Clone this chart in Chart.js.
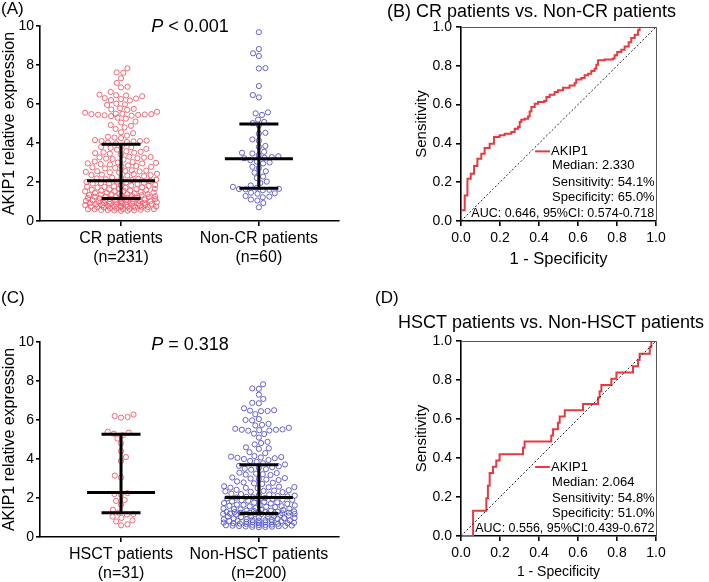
<!DOCTYPE html>
<html>
<head>
<meta charset="utf-8">
<script src="https://cdn.jsdelivr.net/npm/chart.js@4.4.0/dist/chart.umd.min.js"></script>
<style>
  html, body { margin: 0; padding: 0; background: #fff; }
  #wrap { position: relative; width: 709px; height: 582px; }
  canvas { position: absolute; }
</style>
</head>
<body>
<div id="wrap">
  <canvas id="panelA" width="355" height="290" style="left:0;top:0"></canvas>
  <canvas id="panelB" width="354" height="290" style="left:355px;top:0"></canvas>
  <canvas id="panelC" width="355" height="292" style="left:0;top:290px"></canvas>
  <canvas id="panelD" width="354" height="292" style="left:355px;top:290px"></canvas>
</div>
<script>
// ---- data ----
const labelsA = [['CR patients', '(n=231)'], ['Non-CR patients', '(n=60)']];
const labelsC = [['HSCT patients', '(n=31)'], ['Non-HSCT patients', '(n=200)']];
const yTicksDot = [0, 2, 4, 6, 8, 10];

const crValues = [
  7.83, 7.62, 7.60, 7.32, 7.08, 6.88, 6.85, 6.62, 6.48, 6.45,
  6.44, 6.40, 6.30, 6.28, 6.25, 6.20, 6.18, 6.02, 5.98, 5.95,
  5.78, 5.75, 5.72, 5.70, 5.60, 5.55, 5.50, 5.50, 5.48, 5.48,
  5.46, 5.45, 5.44, 5.42, 5.40, 5.38, 5.30, 5.25, 5.10, 5.05,
  4.92, 4.88, 4.80, 4.72, 4.55, 4.50, 4.38, 4.32, 4.28, 4.25,
  4.15, 4.12, 4.10, 4.10, 4.08, 4.05, 4.02, 3.98,
  3.85, 3.80, 3.78, 3.75, 3.70, 3.66,
  3.58, 3.55, 3.52, 3.50, 3.48, 3.45, 3.42,
  3.30, 3.28, 3.26, 3.25, 3.22, 3.20, 3.18, 3.15,
  3.05, 3.02, 3.00, 2.98, 2.96, 2.95, 2.92, 2.90,
  2.85, 2.82, 2.80, 2.78, 2.75, 2.72, 2.70,
  2.60, 2.58, 2.56, 2.55, 2.54, 2.52, 2.50, 2.48,
  2.42, 2.40, 2.38, 2.36, 2.35, 2.33, 2.30,
  2.22, 2.20, 2.18, 2.16, 2.14, 2.12, 2.10,
  2.05, 2.02, 2.00, 1.98, 1.96, 1.95, 1.93, 1.92, 1.90,
  1.85, 1.83, 1.82, 1.80, 1.78, 1.76, 1.75, 1.73, 1.72, 1.70,
  1.66, 1.65, 1.63, 1.62, 1.60, 1.58, 1.57, 1.56, 1.55, 1.53, 1.52,
  1.48, 1.46, 1.45, 1.43, 1.42, 1.40, 1.38, 1.37, 1.36, 1.35, 1.33, 1.32,
  1.30, 1.28, 1.27, 1.26, 1.25, 1.23, 1.22, 1.20, 1.19, 1.18, 1.16, 1.15, 1.14, 1.13, 1.12,
  1.10, 1.09, 1.08, 1.07, 1.06, 1.05, 1.04, 1.03, 1.02, 1.01, 1.00, 0.99, 0.98, 0.97, 0.96,
  0.94, 0.93, 0.92, 0.91, 0.90, 0.89, 0.88, 0.87, 0.86, 0.85, 0.84, 0.83, 0.82, 0.81,
  0.78, 0.77, 0.76, 0.76, 0.75, 0.74, 0.74, 0.73, 0.72, 0.72, 0.71, 0.70, 0.70, 0.69,
  0.66, 0.64, 0.63, 0.62, 0.61, 0.60, 0.60, 0.59, 0.58, 0.57, 0.56, 0.55, 0.54, 0.53, 0.52
];
const nonCrValues = [
  9.68, 8.82, 8.60, 8.46, 7.84, 7.82, 6.92, 6.46, 6.34, 5.57,
  5.52, 5.44, 5.20, 5.08, 5.02,
  4.90, 4.52, 4.48, 4.18, 4.12, 3.85, 3.80, 3.55, 3.50, 3.46,
  3.38, 3.32, 3.28, 3.24, 3.22,
  3.12, 3.05, 3.00, 2.95, 2.78, 2.72, 2.55, 2.48, 2.28, 2.20,
  2.02, 1.95, 1.82, 1.75, 1.70,
  1.65, 1.64, 1.62, 1.60, 1.58, 1.45, 1.42, 1.40, 1.28, 1.25,
  1.22, 1.10, 1.05, 0.92, 0.70
];
const hsctValues = [
  6.28, 6.20, 6.15, 6.12, 5.40, 5.35, 5.30, 5.22,
  5.05, 4.80, 4.40, 4.10, 3.90, 3.15, 3.05, 2.25,
  2.20, 2.18, 1.90, 1.85, 1.65, 1.40, 1.25,
  1.18, 1.15, 1.05, 0.98, 0.85, 0.80, 0.65, 0.60
];
const nonHsctValues = [
  7.83, 7.62, 7.60, 7.30, 7.08, 6.88, 6.86, 6.60, 6.50, 6.48,
  6.46, 6.45, 6.30, 6.05, 6.00, 5.98, 5.80, 5.75, 5.72, 5.60,
  5.55, 5.52, 5.50, 5.50, 5.48, 5.46, 5.45, 5.30, 5.28, 5.10,
  4.88, 4.82, 4.75, 4.60, 4.55, 4.52, 4.35, 4.30, 4.15, 4.12,
  4.10, 4.08, 4.06, 4.04, 4.00, 3.95, 3.90, 3.85, 3.78, 3.72,
  3.65, 3.62, 3.58, 3.55, 3.50, 3.48, 3.45,
  3.30, 3.28, 3.25, 3.22, 3.20, 3.18,
  3.05, 3.02, 3.00, 2.98, 2.95, 2.92,
  2.85, 2.80, 2.78, 2.75, 2.72,
  2.60, 2.58, 2.56, 2.55, 2.53, 2.52, 2.50,
  2.42, 2.40, 2.38, 2.36, 2.34, 2.32, 2.30,
  2.22, 2.20, 2.18, 2.15, 2.12, 2.10,
  2.08, 2.06, 2.04, 2.02, 2.00, 1.98,
  1.95, 1.93, 1.92, 1.90, 1.88, 1.86,
  1.82, 1.80, 1.78, 1.76, 1.74, 1.72, 1.70,
  1.66, 1.65, 1.63, 1.62, 1.60, 1.58, 1.57, 1.55, 1.53,
  1.48, 1.46, 1.45, 1.43, 1.42, 1.40, 1.38, 1.36, 1.35, 1.33,
  1.31, 1.30, 1.29, 1.28, 1.27, 1.26, 1.25, 1.24, 1.23, 1.22,
  1.21, 1.20, 1.19, 1.19, 1.18, 1.18, 1.18, 1.18,
  1.15, 1.12, 1.10, 1.08, 1.06, 1.05, 1.04, 1.02, 1.00, 0.98, 0.96, 0.95,
  0.93, 0.91, 0.90, 0.88, 0.87, 0.86, 0.85, 0.84, 0.83, 0.82, 0.81,
  0.78, 0.77, 0.76, 0.75, 0.74, 0.73, 0.72, 0.71, 0.70, 0.69, 0.68, 0.67,
  0.64, 0.63, 0.62, 0.61, 0.60, 0.59, 0.58, 0.57, 0.56, 0.55, 0.54, 0.53, 0.52, 0.51, 0.50
];

// median and interquartile range per group
const medianA = [2.07, 3.19];
const q1A = [1.15, 1.68];
const q3A = [3.93, 4.97];
const medianC = [2.28, 2.03];
const q1C = [1.25, 1.21];
const q3C = [5.27, 3.71];

// ROC curves (1 - specificity, sensitivity), staircase corners
const rocB_fpr = [0, 0, 0.019, 0.033, 0.05, 0.067, 0.084, 0.104, 0.121, 0.147, 0.169,
  0.198, 0.224, 0.258, 0.275, 0.292, 0.301, 0.309, 0.326, 0.344, 0.352, 0.361, 0.378,
  0.395, 0.426, 0.438, 0.455, 0.48, 0.497, 0.523, 0.557, 0.583, 0.591, 0.617, 0.634,
  0.651, 0.668, 0.685, 0.694, 0.703, 0.737, 0.779, 0.788, 0.801, 0.822, 0.839, 0.86,
  0.873, 0.891, 0.908, 0.916, 1];
const rocB_tpr = [0, 0.055, 0.132, 0.218, 0.244, 0.283, 0.321, 0.347, 0.376, 0.398, 0.433,
  0.442, 0.45, 0.459, 0.476, 0.485, 0.51, 0.522, 0.527, 0.539, 0.565, 0.588, 0.605,
  0.613, 0.619, 0.639, 0.651, 0.665, 0.674, 0.687, 0.699, 0.711, 0.73, 0.737, 0.751,
  0.759, 0.773, 0.785, 0.806, 0.828, 0.833, 0.837, 0.854, 0.871, 0.883, 0.9, 0.922,
  0.943, 0.96, 0.983, 1, 1];
const rocD_fpr = [0, 0.062, 0.13, 0.138, 0.147, 0.164, 0.181, 0.198, 0.318, 0.326, 0.463,
  0.472, 0.497, 0.506, 0.532, 0.626, 0.703, 0.711, 0.72, 0.771, 0.797, 0.882, 0.908,
  0.916, 0.968, 0.976, 1];
const rocD_tpr = [0, 0.129, 0.194, 0.258, 0.323, 0.355, 0.387, 0.419, 0.452, 0.484, 0.516,
  0.548, 0.581, 0.613, 0.645, 0.677, 0.71, 0.742, 0.774, 0.806, 0.839, 0.871, 0.903,
  0.935, 0.968, 1, 1];
const refLine = [0, 1];
const rocTicks = [0, 0.2, 0.4, 0.6, 0.8, 1.0];

const legendB = ['AKIP1', 'Median: 2.330', 'Sensitivity: 54.1%', 'Specificity: 65.0%'];
const aucB = 'AUC: 0.646, 95%CI: 0.574-0.718';
const legendD = ['AKIP1', 'Median: 2.064', 'Sensitivity: 54.8%', 'Specificity: 51.0%'];
const aucD = 'AUC: 0.556, 95%CI:0.439-0.672';

// ---- shared styles ----
const FONT = '"Liberation Sans", Arial, Helvetica, sans-serif';
const RED = 'rgba(238, 90, 104, 0.9)';
const BLUE = 'rgba(84, 84, 200, 0.9)';
const ROC_RED = '#e8393f';
Chart.defaults.font.family = FONT;
Chart.defaults.color = '#000';
Chart.defaults.animation = false;

// free text drawn on the canvas (panel letters, P values, titles)
const textPlugin = {
  id: 'texts',
  afterDraw(chart, args, opts) {
    const ctx = chart.ctx;
    (opts.items || []).forEach(it => {
      const parts = it.parts || [{ t: it.text }];
      ctx.save();
      ctx.fillStyle = '#000';
      ctx.textBaseline = 'middle';
      ctx.textAlign = 'left';
      const fonts = parts.map(p => (p.italic ? 'italic ' : '') + it.size + 'px ' + FONT);
      const widths = parts.map((p, i) => { ctx.font = fonts[i]; return ctx.measureText(p.t).width; });
      let x = it.x;
      if (it.align === 'center') x -= widths.reduce((a, b) => a + b, 0) / 2;
      parts.forEach((p, i) => {
        ctx.font = fonts[i];
        ctx.fillText(p.t, x, it.y);
        x += widths[i];
      });
      ctx.restore();
    });
  }
};

// median + IQR bars on top of the dots
const barsPlugin = {
  id: 'bars',
  afterDatasetsDraw(chart, args, opts) {
    const { ctx, scales: { x, y } } = chart;
    ctx.save();
    ctx.strokeStyle = '#000';
    ctx.lineWidth = 3;
    opts.pos.forEach((p, i) => {
      const cx = x.getPixelForValue(p);
      const yMed = y.getPixelForValue(opts.median[i]);
      const yLo = y.getPixelForValue(opts.q1[i]);
      const yHi = y.getPixelForValue(opts.q3[i]);
      ctx.beginPath();
      ctx.moveTo(cx - 34, yMed); ctx.lineTo(cx + 34, yMed);
      ctx.moveTo(cx - 19.5, yLo); ctx.lineTo(cx + 19.5, yLo);
      ctx.moveTo(cx - 19.5, yHi); ctx.lineTo(cx + 19.5, yHi);
      ctx.moveTo(cx, yLo); ctx.lineTo(cx, yHi);
      ctx.stroke();
    });
    ctx.restore();
  }
};

// nearest free horizontal offset for a point at pixel height py
function freeOffset(placed, py, DX, DY, side) {
  const blocks = [];
  placed.forEach(p => {
    const dy = Math.abs(p.y - py);
    if (dy < DY) {
      const hw = DX * Math.sqrt(1 - (dy / DY) * (dy / DY));
      blocks.push([p.x - hw, p.x + hw]);
    }
  });
  const cands = [0];
  blocks.forEach(b => cands.push(b[0], b[1]));
  cands.sort((a, b) => (Math.abs(a) - Math.abs(b)) || (side * (b - a)));
  for (const c of cands) {
    if (!blocks.some(b => c > b[0] + 1e-6 && c < b[1] - 1e-6)) return c;
  }
  return 0;
}

// spread points horizontally (beeswarm), squeezing rows where it gets too wide
function swarm(chart, groups, pos) {
  const xs = chart.scales.x, ys = chart.scales.y;
  const DX = 6.6, DY = 5.8, HALF = 36;
  groups.forEach((vals, gi) => {
    const cx = xs.getPixelForValue(pos[gi]);
    const order = vals.map((v, i) => i).sort((a, b) => vals[a] - vals[b]);
    const placed = [];
    let side = 1;
    order.forEach(i => {
      const py = ys.getPixelForValue(vals[i]);
      let dx = 0;
      for (const f of [1, 0.8, 0.65, 0.5, 0.35, 0.2, 0]) {
        dx = freeOffset(placed, py, DX, DY * f, side);
        if (Math.abs(dx) <= HALF) break;
      }
      if (dx !== 0) side = -side;
      placed.push({ x: dx, y: py });
      chart.data.datasets[gi].data[i] = { x: xs.getValueForPixel(cx + dx), y: vals[i] };
    });
  });
  chart.update('none');
}

function dotPlot(id, groups, colors, labels, pos, stats, texts) {
  const chart = new Chart(document.getElementById(id), {
    type: 'scatter',
    data: {
      datasets: groups.map((vals, gi) => ({
        data: vals.map(v => ({ x: pos[gi], y: v })),
        pointStyle: 'circle',
        pointRadius: 2.6,
        pointBorderWidth: 1,
        pointBackgroundColor: 'rgba(0,0,0,0)',
        pointBorderColor: colors[gi]
      }))
    },
    options: {
      responsive: false,
      layout: { padding: { left: 0, right: 16, top: stats.top, bottom: 0 } },
      plugins: {
        legend: { display: false },
        tooltip: { enabled: false },
        bars: stats,
        texts: { items: texts }
      },
      scales: {
        x: {
          type: 'linear', min: 0, max: 1,
          afterBuildTicks: s => { s.ticks = pos.map(v => ({ value: v })); },
          afterFit: s => { s.height = stats.xh; },
          ticks: {
            autoSkip: false, maxRotation: 0, padding: 3,
            font: { size: 16 },
            callback: (v, i) => labels[i]
          },
          grid: { drawOnChartArea: false, tickLength: 5, color: '#000', lineWidth: 1.6 },
          border: { color: '#000', width: 1.6 }
        },
        y: {
          min: 0, max: 10,
          afterBuildTicks: s => { s.ticks = yTicksDot.map(v => ({ value: v })); },
          afterFit: s => { s.width = 40; },
          ticks: { padding: 2, font: { size: 14 } },
          grid: { drawOnChartArea: false, tickLength: 4, color: '#000', lineWidth: 1.6 },
          border: { color: '#000', width: 1.6 },
          title: { display: true, text: 'AKIP1 relative expression', font: { size: 16 }, padding: 0 }
        }
      }
    },
    plugins: [barsPlugin, textPlugin]
  });
  swarm(chart, groups, pos);
  return chart;
}

// frame + legend text for ROC panels
const rocPlugin = {
  id: 'roc',
  afterDatasetsDraw(chart, args, opts) {
    const { ctx, chartArea: a, scales: { x, y } } = chart;
    ctx.save();
    ctx.strokeStyle = '#555';
    ctx.lineWidth = 1;
    ctx.beginPath();
    ctx.moveTo(a.left, a.top + 0.5); ctx.lineTo(a.right + 0.5, a.top + 0.5);
    ctx.lineTo(a.right + 0.5, a.bottom);
    ctx.stroke();
    // legend line
    const ly = y.getPixelForValue(opts.legendY[0]);
    ctx.strokeStyle = ROC_RED;
    ctx.lineWidth = 2;
    ctx.beginPath();
    ctx.moveTo(x.getPixelForValue(0.38), ly);
    ctx.lineTo(x.getPixelForValue(0.456), ly);
    ctx.stroke();
    ctx.fillStyle = '#000';
    ctx.textBaseline = 'middle';
    ctx.font = '13px ' + FONT;
    opts.lines.forEach((t, i) => {
      ctx.fillText(t, x.getPixelForValue(i === 0 ? 0.462 : 0.467), y.getPixelForValue(opts.legendY[i]));
    });
    ctx.font = '12.5px ' + FONT;
    ctx.fillText(opts.auc, x.getPixelForValue(opts.aucX), y.getPixelForValue(opts.aucY));
    ctx.restore();
  }
};

function rocPlot(id, fpr, tpr, legend, texts) {
  return new Chart(document.getElementById(id), {
    type: 'line',
    data: {
      datasets: [
        {
          data: refLine.map((v, i) => ({ x: v, y: refLine[i] })),
          borderColor: '#222', borderWidth: 1, borderDash: [2, 2], pointRadius: 0
        },
        {
          data: fpr.map((v, i) => ({ x: v, y: tpr[i] })),
          borderColor: ROC_RED, borderWidth: 2, stepped: 'before', pointRadius: 0
        }
      ]
    },
    options: {
      responsive: false,
      layout: { padding: { left: 0, right: 53, top: legend.top, bottom: 0 } },
      plugins: {
        legend: { display: false },
        tooltip: { enabled: false },
        roc: legend,
        texts: { items: texts }
      },
      scales: {
        x: {
          type: 'linear', min: 0, max: 1,
          afterBuildTicks: s => { s.ticks = rocTicks.map(v => ({ value: v })); },
          afterFit: s => { s.height = legend.xh; },
          ticks: { maxRotation: 0, padding: 4, font: { size: 14 }, callback: v => v.toFixed(1) },
          grid: { drawOnChartArea: false, tickLength: 5, color: '#000', lineWidth: 1.6 },
          border: { color: '#000', width: 1.6 },
          title: { display: true, text: '1 - Specificity', font: { size: legend.xtSize }, padding: { top: 0, bottom: legend.xtPad } }
        },
        y: {
          min: 0, max: 1,
          afterBuildTicks: s => { s.ticks = rocTicks.map(v => ({ value: v })); },
          afterFit: s => { s.width = 106; },
          ticks: { padding: 4, font: { size: 14 }, callback: v => v.toFixed(1) },
          grid: { drawOnChartArea: false, tickLength: 5, color: '#000', lineWidth: 1.6 },
          border: { color: '#000', width: 1.6 },
          title: { display: true, text: 'Sensitivity', font: { size: 15 }, padding: { top: 58, bottom: 0 } }
        }
      }
    },
    plugins: [rocPlugin, textPlugin]
  });
}

dotPlot('panelA', [crValues, nonCrValues], [RED, BLUE], labelsA, [0.271, 0.732],
  { pos: [0.271, 0.732], median: medianA, q1: q1A, q3: q3A, top: 26, xh: 69 },
  [
    { text: '(A)', x: 1, y: 9, size: 17 },
    { parts: [{ t: 'P', italic: true }, { t: ' < 0.001' }], x: 190, y: 27, size: 18, align: 'center' }
  ]);

rocPlot('panelB', rocB_fpr, rocB_tpr,
  { lines: legendB, legendY: [0.359, 0.284, 0.201, 0.124], auc: aucB, aucX: 0.053, aucY: 0.038,
    top: 27, xh: 69, xtSize: 16.5, xtPad: 21 },
  [{ text: '(B) CR patients vs. Non-CR patients', x: 32, y: 12, size: 18 }]);

dotPlot('panelC', [hsctValues, nonHsctValues], [RED, BLUE], labelsC, [0.271, 0.732],
  { pos: [0.271, 0.732], median: medianC, q1: q1C, q3: q3C, top: 52, xh: 45 },
  [
    { text: '(C)', x: 1, y: 8, size: 17 },
    { parts: [{ t: 'P', italic: true }, { t: ' = 0.318' }], x: 190, y: 55, size: 18, align: 'center' }
  ]);

rocPlot('panelD', rocD_fpr, rocD_tpr,
  { lines: legendD, legendY: [0.354, 0.277, 0.193, 0.114], auc: aucD, aucX: 0.073, aucY: 0.037,
    top: 51, xh: 46, xtSize: 14, xtPad: 1 },
  [
    { text: '(D)', x: 20, y: 8, size: 17 },
    { text: 'HSCT patients vs. Non-HSCT patients', x: 43, y: 33, size: 18 }
  ]);
</script>
</body>
</html>
